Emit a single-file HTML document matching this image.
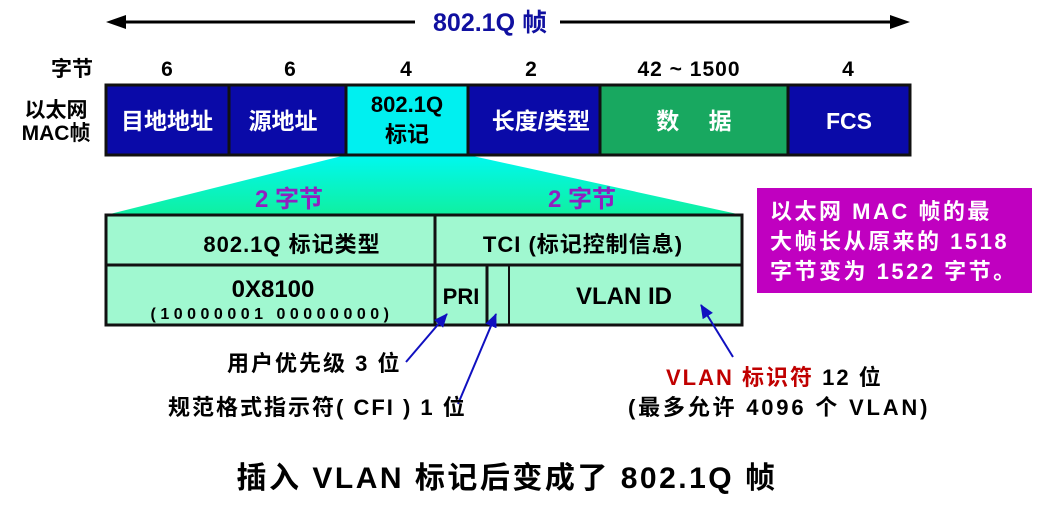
<!DOCTYPE html>
<html><head><meta charset="utf-8"><style>
body{margin:0;background:#fff}
svg text{font-family:"Liberation Sans","Noto Sans CJK SC",sans-serif;font-weight:bold}
</style></head><body>
<svg width="1040" height="518" viewBox="0 0 1040 518" xmlns="http://www.w3.org/2000/svg">
<defs>
<linearGradient id="g" x1="0" y1="0" x2="0" y2="1"><stop offset="0" stop-color="#00f8f0"/><stop offset="1" stop-color="#10f0a0"/></linearGradient>
<marker id="ah" markerWidth="14" markerHeight="12" refX="13" refY="6" orient="auto" markerUnits="userSpaceOnUse"><path d="M0,0 L14,6 L0,12 z" fill="#1010c0"/></marker>
</defs>
<line x1="118" y1="22" x2="415" y2="22" stroke="#000" stroke-width="3"/>
<path d="M106,22 L126,15 L126,29 z" fill="#000"/>
<line x1="560" y1="22" x2="898" y2="22" stroke="#000" stroke-width="3"/>
<path d="M910,22 L890,15 L890,29 z" fill="#000"/>
<text x="490" y="31" font-size="25" fill="#1010a0" text-anchor="middle">802.1Q 帧</text>
<g font-size="21" fill="#000" text-anchor="middle">
<text x="72" y="76">字节</text>
<text x="167" y="76">6</text><text x="290" y="76">6</text><text x="406" y="76">4</text>
<text x="531" y="76">2</text><text x="689" y="76" letter-spacing="1">42 ~ 1500</text><text x="848" y="76">4</text>
</g>
<text x="56" y="117" font-size="21" text-anchor="middle">以太网</text>
<text x="56" y="140" font-size="21" text-anchor="middle">MAC帧</text>
<path d="M346,155 L468,155 L742,215 L106,215 z" fill="url(#g)"/>
<rect x="106" y="85" width="804" height="70" fill="#0a0aa8" stroke="#111" stroke-width="3"/>
<rect x="346" y="85" width="122" height="70" fill="#00f0f0" stroke="#111" stroke-width="3"/>
<rect x="600" y="85" width="188" height="70" fill="#18a860" stroke="#111" stroke-width="3"/>
<line x1="229" y1="85" x2="229" y2="155" stroke="#111" stroke-width="3"/>
<g font-size="23" fill="#fff" text-anchor="middle">
<text x="167" y="129">目地地址</text><text x="283" y="129">源地址</text>
<text x="541" y="129">长度/类型</text><text x="694" y="129">数　 据</text><text x="849" y="129">FCS</text>
</g>
<text x="407" y="112" font-size="22" text-anchor="middle" fill="#000">802.1Q</text>
<text x="407" y="142" font-size="22" text-anchor="middle" fill="#000">标记</text>
<text x="289" y="207" font-size="24" fill="#9020c0" text-anchor="middle">2 字节</text>
<text x="582" y="207" font-size="24" fill="#9020c0" text-anchor="middle">2 字节</text>
<rect x="106" y="215" width="636" height="110" fill="#a0f8d0" stroke="#111" stroke-width="3"/>
<line x1="106" y1="265" x2="742" y2="265" stroke="#111" stroke-width="3"/>
<line x1="435" y1="215" x2="435" y2="325" stroke="#111" stroke-width="3"/>
<line x1="487" y1="265" x2="487" y2="325" stroke="#111" stroke-width="3"/>
<line x1="509" y1="265" x2="509" y2="325" stroke="#111" stroke-width="2"/>
<g fill="#000" text-anchor="middle">
<text x="292" y="252" font-size="22" letter-spacing="1">802.1Q 标记类型</text>
<text x="583" y="252" font-size="22" letter-spacing="1">TCI (标记控制信息)</text>
<text x="273" y="297" font-size="24">0X8100</text>
<text x="272" y="319" font-size="16" letter-spacing="4.5">(10000001 00000000)</text>
<text x="461" y="304" font-size="22">PRI</text>
<text x="624" y="304" font-size="24">VLAN ID</text>
</g>
<rect x="757" y="188" width="275" height="105" fill="#c000c0"/>
<g font-size="22" fill="#fff" letter-spacing="2.5">
<text x="770" y="219">以太网 MAC 帧的最</text>
<text x="770" y="249">大帧长从原来的 1518</text>
<text x="770" y="279">字节变为 1522 字节。</text>
</g>
<line x1="406" y1="362" x2="447" y2="314" stroke="#1010c0" stroke-width="2" marker-end="url(#ah)"/>
<line x1="458" y1="404" x2="496" y2="314" stroke="#1010c0" stroke-width="2" marker-end="url(#ah)"/>
<line x1="733" y1="357" x2="701" y2="305" stroke="#1010c0" stroke-width="2" marker-end="url(#ah)"/>
<g font-size="22" fill="#000" letter-spacing="2">
<text x="227" y="371">用户优先级 3 位</text>
<text x="168" y="415">规范格式指示符( CFI ) 1 位</text>
<text x="666" y="385"><tspan fill="#c00000">VLAN 标识符</tspan> 12 位</text>
<text x="628" y="415" letter-spacing="2.8">(最多允许 4096 个 VLAN)</text>
</g>
<text x="507" y="488" font-size="30" fill="#000" text-anchor="middle" letter-spacing="2.5">插入 VLAN 标记后变成了 802.1Q 帧</text>
</svg>
</body></html>
